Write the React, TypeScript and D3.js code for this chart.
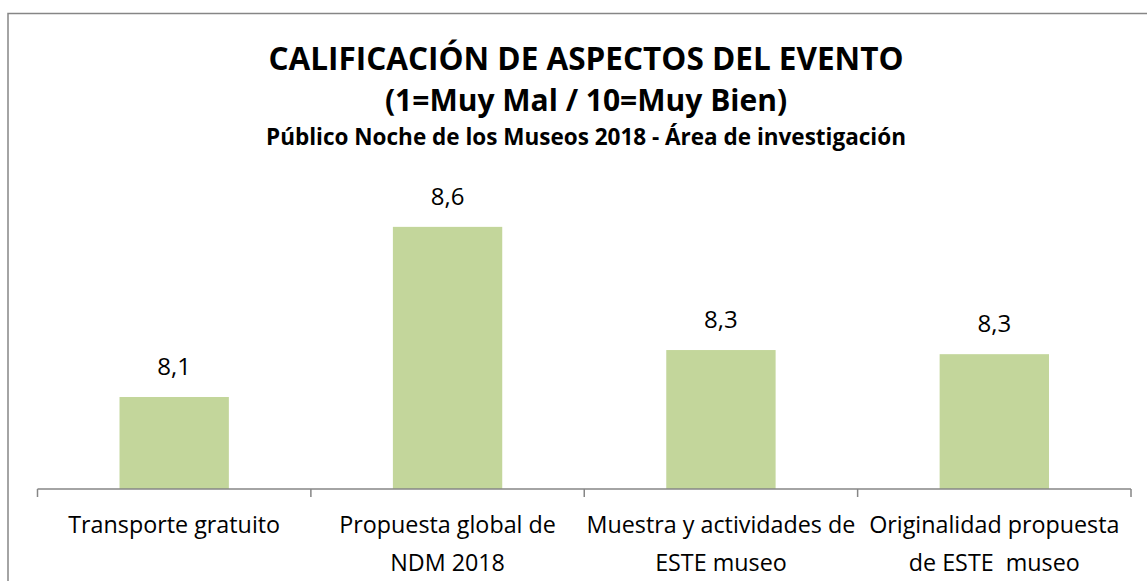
import React, { useEffect, useRef } from 'react';
import * as d3 from 'd3';

// Calificación de aspectos del evento - Noche de los Museos 2018

const categories = [
  'Transporte gratuito',
  'Propuesta global de NDM 2018',
  'Muestra y actividades de ESTE museo',
  'Originalidad propuesta de ESTE  museo',
];
const categoryLines = [
  ['Transporte gratuito'],
  ['Propuesta global de', 'NDM 2018'],
  ['Muestra y actividades de', 'ESTE museo'],
  ['Originalidad propuesta', 'de ESTE  museo'],
];
const scores = [8.145, 8.598, 8.27, 8.259];

const titleLines = [
  'CALIFICACIÓN DE ASPECTOS DEL EVENTO',
  '(1=Muy Mal / 10=Muy Bien)',
  'Público Noche de los Museos 2018 - Área de investigación',
];

const App = () => {
  const svgRef = useRef<SVGSVGElement>(null);

  useEffect(() => {
    const width = 1147;
    const height = 581;
    const font = '"Open Sans", "Noto Sans", sans-serif';
    const svg = d3.select(svgRef.current);
    svg.selectAll('*').remove();

    // chart frame (cropped on the right and bottom)
    svg.append('rect')
      .attr('x', 8)
      .attr('y', 13.5)
      .attr('width', width)
      .attr('height', height)
      .attr('fill', 'white')
      .attr('stroke', '#868686')
      .attr('stroke-width', 1.5);

    const x = d3.scaleBand()
      .domain(categories)
      .range([37.5, 1131])
      .paddingInner(0.6)
      .paddingOuter(0.3);

    const y = d3.scaleLinear()
      .domain([7.9, 8.8])
      .range([489, 151]);

    // titles
    const titleSizes = [31.5, 30, 22.5];
    const titleY = [70, 111, 145];
    svg.selectAll('text.title')
      .data(titleLines)
      .enter()
      .append('text')
      .attr('class', 'title')
      .attr('x', 586)
      .attr('y', (d, i) => titleY[i])
      .attr('text-anchor', 'middle')
      .attr('font-family', font)
      .attr('font-weight', 'bold')
      .attr('font-size', (d, i) => titleSizes[i])
      .attr('fill', '#000')
      .text(d => d);

    // bars
    svg.selectAll('rect.bar')
      .data(scores)
      .enter()
      .append('rect')
      .attr('class', 'bar')
      .attr('x', (d, i) => x(categories[i]))
      .attr('y', d => y(d))
      .attr('width', x.bandwidth())
      .attr('height', d => y(7.9) - y(d))
      .attr('fill', '#C3D69B');

    // value labels
    svg.selectAll('text.value')
      .data(scores)
      .enter()
      .append('text')
      .attr('class', 'value')
      .attr('x', (d, i) => x(categories[i]) + x.bandwidth() / 2)
      .attr('y', d => y(d) - 22)
      .attr('text-anchor', 'middle')
      .attr('font-family', font)
      .attr('font-size', 24)
      .attr('fill', '#000')
      .text(d => d.toFixed(1).replace('.', ','));

    // x axis with ticks between categories
    const step = x.step();
    const tickXs = categories.map(c => x(c) - step * 0.3).concat([1131]);
    const axis = svg.append('g').attr('stroke', '#868686').attr('stroke-width', 1.5);
    axis.append('line')
      .attr('x1', tickXs[0])
      .attr('x2', tickXs[tickXs.length - 1])
      .attr('y1', y(7.9))
      .attr('y2', y(7.9));
    axis.selectAll('line.tick')
      .data(tickXs)
      .enter()
      .append('line')
      .attr('class', 'tick')
      .attr('x1', d => d)
      .attr('x2', d => d)
      .attr('y1', y(7.9))
      .attr('y2', y(7.9) + 8);

    // category labels
    const labels = svg.selectAll('text.cat')
      .data(categoryLines)
      .enter()
      .append('text')
      .attr('class', 'cat')
      .attr('text-anchor', 'middle')
      .attr('font-family', font)
      .attr('font-size', 23.3)
      .attr('fill', '#000')
      .style('white-space', 'pre');
    labels.selectAll('tspan')
      .data((d, i) => d.map(line => ({ line, i })))
      .enter()
      .append('tspan')
      .attr('x', d => x(categories[d.i]) + x.bandwidth() / 2)
      .attr('y', (d, j) => 533 + j * 38)
      .text(d => d.line);
  }, []);

  return (
    <svg
      ref={svgRef}
      width="1147"
      height="581"
      style={{ position: 'fixed', left: 0, top: 0, display: 'block', background: '#fff' }}
    />
  );
};

export default App;
